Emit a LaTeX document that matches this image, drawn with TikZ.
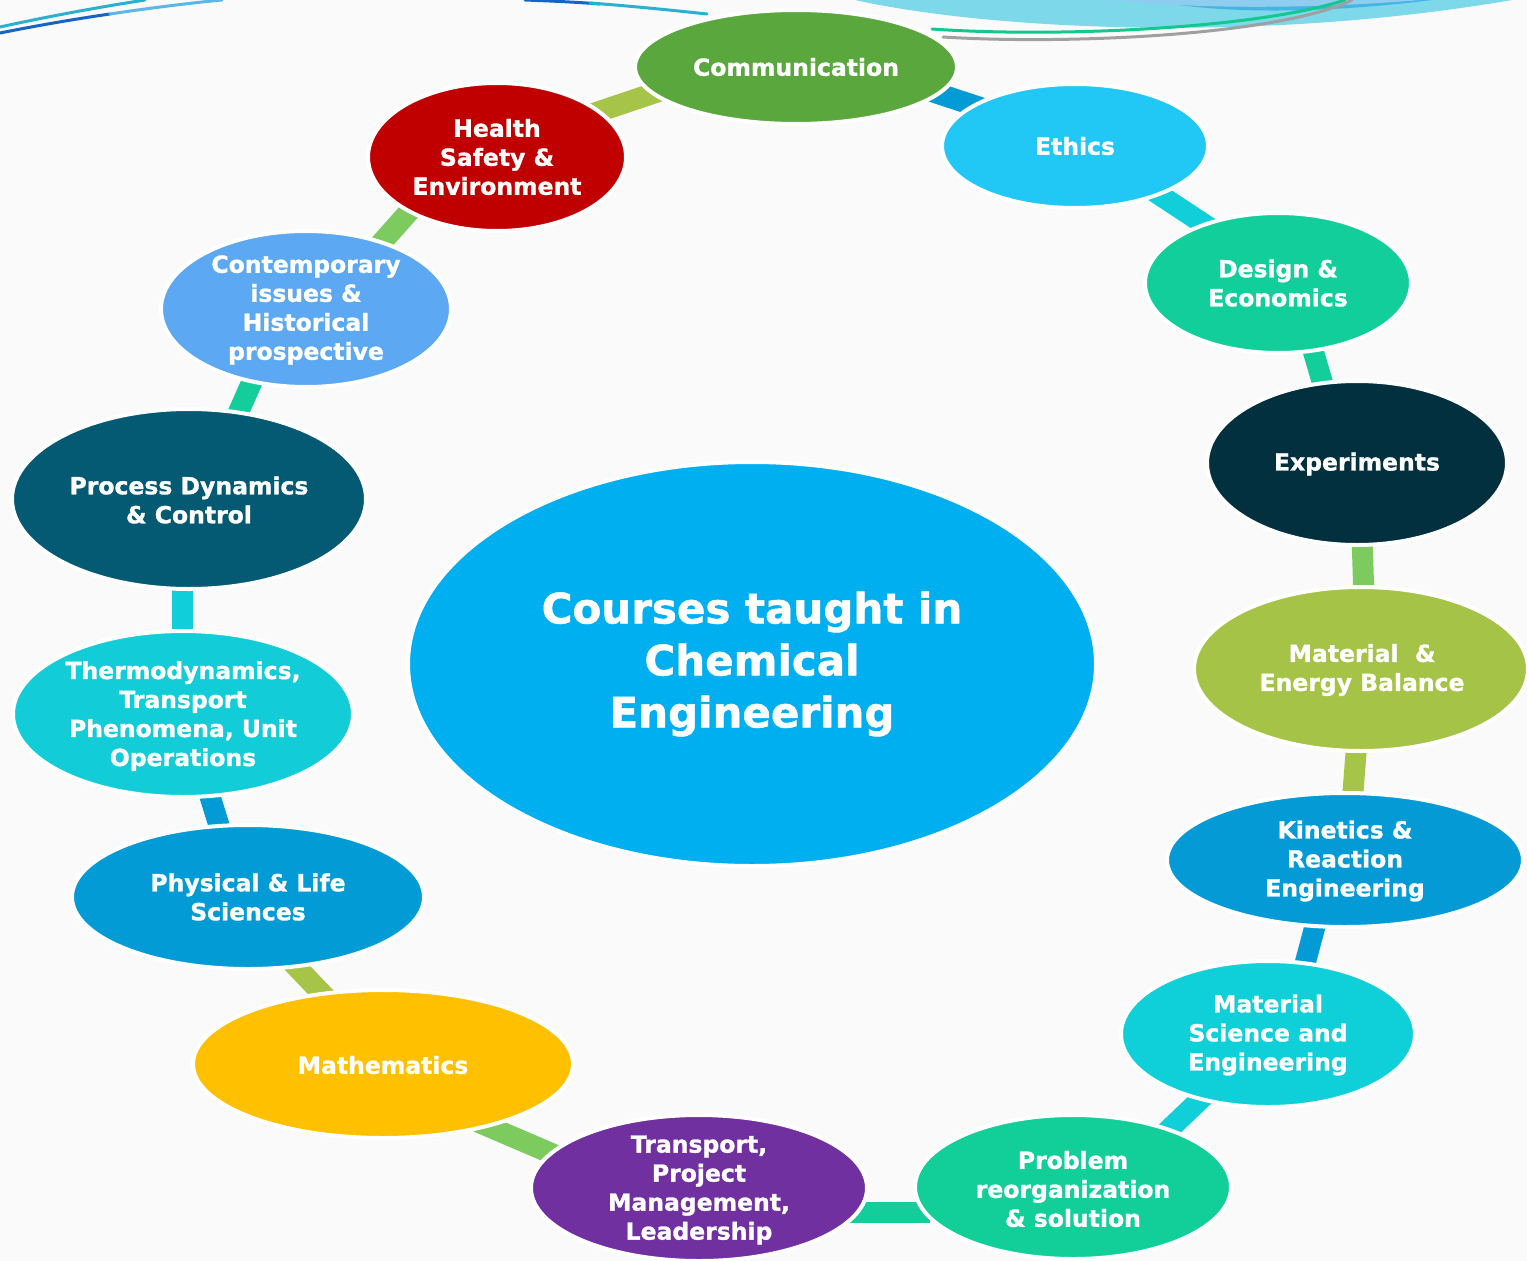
\documentclass[tikz,border=0pt]{standalone}
\usepackage{fontspec}
\setmainfont{DejaVu Sans}
\newfontfamily\heavyfont{DejaVu Sans Bold}[FakeBold=1.2]
\usetikzlibrary{shapes.geometric}
\pgfdeclarelayer{background}
\pgfsetlayers{background,main}
\definecolor{cBg}{HTML}{FAFAFA}
\definecolor{cComm}{HTML}{5AA83D}
\definecolor{cEthics}{HTML}{22C8F5}
\definecolor{cDesign}{HTML}{12CE9B}
\definecolor{cExp}{HTML}{03303F}
\definecolor{cMatEn}{HTML}{A5C347}
\definecolor{cKin}{HTML}{039AD6}
\definecolor{cMatSci}{HTML}{0FCFD9}
\definecolor{cProb}{HTML}{12CF9A}
\definecolor{cTrans}{HTML}{7030A0}
\definecolor{cMath}{HTML}{FFC000}
\definecolor{cPhys}{HTML}{039BD5}
\definecolor{cThermo}{HTML}{12CDD7}
\definecolor{cProc}{HTML}{035A72}
\definecolor{cCont}{HTML}{5CA8F2}
\definecolor{cHealth}{HTML}{C00000}
\definecolor{cCenter}{HTML}{00AFF0}
\definecolor{kBlue}{HTML}{039BD5}
\definecolor{kCyan}{HTML}{10CFD8}
\definecolor{kTeal}{HTML}{13CE9A}
\definecolor{kLGreen}{HTML}{7DCB5F}
\definecolor{kOlive}{HTML}{A6C447}
\definecolor{sCyan}{HTML}{7DD8EA}
\definecolor{sBlueA}{HTML}{45B4E2}
\definecolor{sBlueB}{HTML}{8FCDF0}
\definecolor{sGreen}{HTML}{12C88E}
\definecolor{sGray}{HTML}{A0A0A0}
\definecolor{sTeal}{HTML}{2BB0D0}
\definecolor{sDark}{HTML}{1565C8}
\definecolor{sLight}{HTML}{5BB8E6}
\tikzset{
  bub/.style={ellipse, draw=white, line width=4pt, inner sep=0pt, outer sep=0pt},
  lbl/.style={text=white, font=\heavyfont\fontsize{23.5}{29}\selectfont, align=center, inner sep=0pt},
  bigl/.style={text=white, font=\heavyfont\fontsize{42}{52}\selectfont, align=center, inner sep=0pt},
  conn/.style={line width=21pt, line cap=butt},
  swoosh/.style={line width=3pt, line cap=round}
}
\begin{document}
\begin{tikzpicture}[x=1pt,y=-1pt]
\useasboundingbox (0,0) rectangle (1527,1261);
\begin{pgfonlayer}{background}
\fill[cBg] (0,0) rectangle (1527,1261);
% connector end points
\coordinate (k1a) at (580,118);  \coordinate (k1b) at (675,86);
\coordinate (k2a) at (915,86);   \coordinate (k2b) at (1000,114);
\coordinate (k3a) at (1140,182); \coordinate (k3b) at (1225,238);
\coordinate (k4a) at (1310,340); \coordinate (k4b) at (1326,395);
\coordinate (k5a) at (1362,535); \coordinate (k5b) at (1364,600);
\coordinate (k6a) at (1357,740); \coordinate (k6b) at (1352,805);
\coordinate (k7a) at (1318,915); \coordinate (k7b) at (1302,975);
\coordinate (k8a) at (1205,1095);\coordinate (k8b) at (1160,1138);
\coordinate (k9a) at (850,1212); \coordinate (k9b) at (930,1212);
\coordinate (k10a) at (478,1122);\coordinate (k10b) at (562,1158);
\coordinate (k11a) at (290,960); \coordinate (k11b) at (330,1002);
\coordinate (k12a) at (208,790); \coordinate (k12b) at (222,835);
\coordinate (k13a) at (182,580); \coordinate (k13b) at (182,640);
\coordinate (k14a) at (255,375); \coordinate (k14b) at (235,420);
\coordinate (k15a) at (415,205); \coordinate (k15b) at (375,250);
\draw[conn, kOlive] (k1a) -- (k1b);
\draw[conn, kBlue] (k2a) -- (k2b);
\draw[conn, kCyan] (k3a) -- (k3b);
\draw[conn, kTeal] (k4a) -- (k4b);
\draw[conn, kLGreen] (k5a) -- (k5b);
\draw[conn, kOlive] (k6a) -- (k6b);
\draw[conn, kBlue] (k7a) -- (k7b);
\draw[conn, kCyan] (k8a) -- (k8b);
\draw[conn, kTeal] (k9a) -- (k9b);
\draw[conn, kLGreen] (k10a) -- (k10b);
\draw[conn, kOlive] (k11a) -- (k11b);
\draw[conn, kBlue] (k12a) -- (k12b);
\draw[conn, kCyan] (k13a) -- (k13b);
\draw[conn, kTeal] (k14a) -- (k14b);
\draw[conn, kLGreen] (k15a) -- (k15b);
\end{pgfonlayer}
% decorative swooshes at the top
\fill[sCyan] (855,0) .. controls (980,28) and (1250,45) .. (1512,0) -- cycle;
\fill[sBlueA] (1150,0) .. controls (1220,15) and (1330,13) .. (1432,0) -- cycle;
\fill[sBlueB] (1113,0) .. controls (1200,10) and (1330,8) .. (1420,0) -- cycle;
\draw[swoosh, sGreen] (932,29) .. controls (1060,38) and (1260,28) .. (1345,0);
\draw[swoosh, sGray] (943,37) .. controls (1070,45) and (1280,35) .. (1352,0);
\draw[swoosh, sTeal] (0,27) .. controls (50,16) and (100,7) .. (145,0);
\draw[swoosh, sDark] (0,33) .. controls (35,26) and (75,19) .. (110,14);
\draw[swoosh, sLight] (110,14) .. controls (150,8) and (190,3) .. (222,0);
\draw[swoosh, sDark] (525,0) .. controls (550,1) and (575,2) .. (600,4);
\draw[swoosh, sTeal] (590,3) .. controls (630,6) and (670,10) .. (707,14);
% bubbles
\node[bub, fill=cCenter, minimum width=688pt, minimum height=404pt] (center) at (752,664) {};
\node[bigl] (center-t) at (752,664) {Courses taught in\\Chemical\\Engineering};
\node[bub, fill=cComm, minimum width=322pt, minimum height=114pt] (comm) at (796,67) {};
\node[lbl] (comm-t) at (comm) {Communication};
\node[bub, fill=cEthics, minimum width=266pt, minimum height=124pt] (ethics) at (1075,146) {};
\node[lbl] (ethics-t) at (ethics) {Ethics};
\node[bub, fill=cDesign, minimum width=266pt, minimum height=140pt] (design) at (1278,283) {};
\node[lbl] (design-t) at (design) {Design \&\\Economics};
\node[bub, fill=cExp, minimum width=300pt, minimum height=164pt] (exp) at (1357,463) {};
\node[lbl] (exp-t) at (1357,464) {Experiments};
\node[bub, fill=cMatEn, minimum width=334pt, minimum height=164pt] (maten) at (1361,669) {};
\node[lbl] (maten-t) at (1362,670) {Material \ \&\\Energy Balance};
\node[bub, fill=cKin, minimum width=356pt, minimum height=134pt] (kin) at (1345,860) {};
\node[lbl] (kin-t) at (1345,861) {Kinetics \&\\Reaction\\Engineering};
\node[bub, fill=cMatSci, minimum width=294pt, minimum height=146pt] (matsci) at (1268,1034) {};
\node[lbl] (matsci-t) at (1268,1035) {Material\\Science and\\Engineering};
\node[bub, fill=cProb, minimum width=316pt, minimum height=144pt] (prob) at (1073,1187) {};
\node[lbl] (prob-t) at (1073,1189) {Problem\\reorganization\\\& solution};
\node[bub, fill=cTrans, minimum width=336pt, minimum height=146pt] (trans) at (699,1188) {};
\node[lbl] (trans-t) at (699,1190) {Transport,\\Project\\Management,\\Leadership};
\node[bub, fill=cMath, minimum width=380pt, minimum height=148pt] (math) at (383,1064) {};
\node[lbl] (math-t) at (383,1065) {Mathematics};
\node[bub, fill=cPhys, minimum width=352pt, minimum height=144pt] (phys) at (248,897) {};
\node[lbl] (phys-t) at (phys) {Physical \& Life\\Sciences};
\node[bub, fill=cThermo, minimum width=340pt, minimum height=166pt] (thermo) at (183,714) {};
\node[lbl] (thermo-t) at (183,716) {Thermodynamics,\\Transport\\Phenomena, Unit\\Operations};
\node[bub, fill=cProc, minimum width=354pt, minimum height=180pt] (proc) at (189,499) {};
\node[lbl] (proc-t) at (189,500) {Process Dynamics\\\& Control};
\node[bub, fill=cCont, minimum width=290pt, minimum height=156pt] (cont) at (306,309) {};
\node[lbl] (cont-t) at (306,310) {Contemporary\\issues \&\\Historical\\prospective};
\node[bub, fill=cHealth, minimum width=258pt, minimum height=148pt] (health) at (497,157) {};
\node[lbl] (health-t) at (health) {Health\\Safety \&\\Environment};
\end{tikzpicture}
\end{document}
